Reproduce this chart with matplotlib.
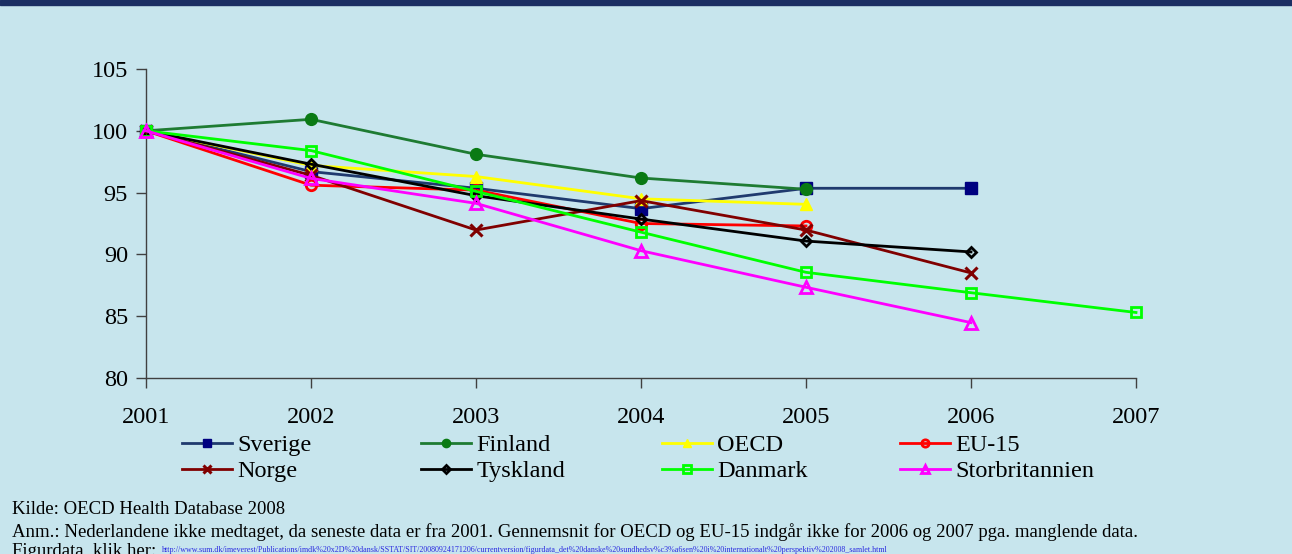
import matplotlib
matplotlib.use("Agg")
import matplotlib.pyplot as plt

years = [2001, 2002, 2003, 2004, 2005, 2006, 2007]

sverige = [100, 96.7, 95.35, 93.7, 95.35, 95.35]
finland = [100, 100.93, 98.1, 96.18, 95.27]
oecd = [100, 97.2, 96.3, 94.5, 94.05]
eu15 = [100, 95.6, 95.2, 92.5, 92.3]
norge = [100, 96.4, 91.97, 94.35, 91.97, 88.5]
tyskland = [100, 97.3, 94.75, 92.86, 91.08, 90.2]
danmark = [100, 98.4, 95.1, 91.8, 88.55, 86.9, 85.3]
storbritannien = [100, 96.15, 94.13, 90.3, 87.34, 84.48]

series_names = ["Sverige", "Finland", "OECD", "EU-15",
                "Norge", "Tyskland", "Danmark", "Storbritannien"]
series_values = [sverige, finland, oecd, eu15,
                 norge, tyskland, danmark, storbritannien]

y_ticks = [80, 85, 90, 95, 100, 105]

source_text = "Kilde: OECD Health Database 2008"
note_text = ("Anm.: Nederlandene ikke medtaget, da seneste data er fra 2001. "
             "Gennemsnit for OECD og EU-15 indgår ikke for 2006 og 2007 pga. manglende data.")
link_label = "Figurdata, klik her:"
link_url = ("http://www.sum.dk/imeverest/Publications/imdk%20x2D%20dansk/SSTAT/SIT/"
            "20080924171206/currentversion/figurdata_det%20danske%20sundhedsv%c3%a6sen"
            "%20i%20internationalt%20perspektiv%202008_samlet.html")

BG = "#C7E5ED"
NAVY = "#1B2F63"

styles = [
    dict(color="#1F3A6E", marker="s", mfc="#000080", mec="#000080", ms=8),
    dict(color="#1E7B32", marker="o", mfc="#0A7A14", mec="#0A7A14", ms=8.5),
    dict(color="#FFFF00", marker="^", mfc="#FFFF00", mec="#FFFF00", ms=9),
    dict(color="#FF0000", marker="o", mfc="none", mec="#FF0000", ms=7.5, mew=2),
    dict(color="#800000", marker="x", mfc="#800000", mec="#800000", ms=8, mew=2.2),
    dict(color="#000000", marker="D", mfc="none", mec="#000000", ms=5.5, mew=2),
    dict(color="#00FF00", marker="s", mfc="none", mec="#00FF00", ms=7.5, mew=2),
    dict(color="#FF00FF", marker="^", mfc="none", mec="#FF00FF", ms=8.5, mew=2),
]

plt.rcParams["font.family"] = ["Liberation Serif", "DejaVu Serif"]

fig = plt.figure(figsize=(12.92, 5.54), dpi=100, facecolor=BG)

# header band at the very top
fig.patches.append(plt.Rectangle((0, 1 - 4.5 / 554), 1, 4.5 / 554,
                                 transform=fig.transFigure, color=NAVY, zorder=0))

ax = fig.add_axes([146 / 1292, 1 - 378 / 554, (1136 - 146) / 1292, (378 - 69) / 554])
ax.set_facecolor(BG)

lines = []
for i, (name, vals) in enumerate(zip(series_names, series_values)):
    st = styles[i]
    ln, = ax.plot(years[:len(vals)], vals, color=st["color"], lw=2.0,
                  marker=st["marker"], markerfacecolor=st["mfc"],
                  markeredgecolor=st["mec"], markersize=st["ms"],
                  markeredgewidth=st.get("mew", 1.0), clip_on=False,
                  label=name, zorder=3 + i * 0.01)
    lines.append(ln)

ax.set_xlim(2001, 2007)
ax.set_ylim(80, 105)
ax.set_xticks(years)
ax.set_yticks(y_ticks)
ax.tick_params(axis="both", direction="out", length=7, width=1, color="#404040",
               labelsize=17.5)
ax.tick_params(axis="x", pad=14)
ax.tick_params(axis="y", pad=6)
for s in ["top", "right"]:
    ax.spines[s].set_visible(False)
for s in ["left", "bottom"]:
    ax.spines[s].set_color("#404040")
    ax.spines[s].set_linewidth(1)

# legend laid out as four columns of two entries
col_x = [182, 421, 662, 900]
for c in range(4):
    handles = [lines[c], lines[c + 4]]
    fig.legend(handles=handles, labels=[series_names[c], series_names[c + 4]],
               loc="upper left", bbox_to_anchor=(col_x[c] / 1292, 1 - 434 / 554),
               frameon=False, fontsize=17.5, handlelength=2.05, handletextpad=0.22,
               labelspacing=0.18, borderpad=0, borderaxespad=0, markerscale=0.7)

fig.text(12 / 1292, 1 - 509 / 554, source_text, fontsize=13.5, va="center", ha="left")
fig.text(12 / 1292, 1 - 532 / 554, note_text, fontsize=13.5, va="center", ha="left")
fig.text(12 / 1292, 1 - 551 / 554, link_label, fontsize=13.5, va="center", ha="left")
fig.text(162 / 1292, 1 - 550 / 554, link_url, fontsize=5.8, va="center", ha="left",
         color="#2A2AE0")

fig.savefig("out.png", dpi=100, facecolor=BG)
